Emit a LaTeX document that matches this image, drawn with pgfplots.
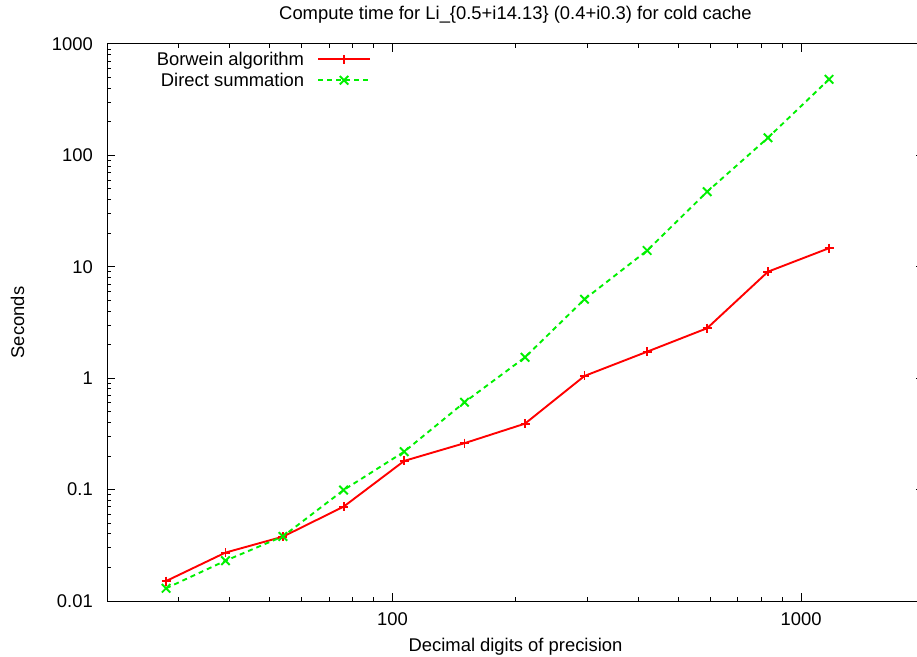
\documentclass[border=0pt]{standalone}
\usepackage{pgfplots}
\pgfplotsset{compat=1.18}
\usepackage{fontspec}
\setmainfont{Liberation Sans}
\definecolor{gpred}{RGB}{255,0,0}
\definecolor{gpgreen}{RGB}{0,240,0}
\begin{document}
\begin{tikzpicture}[font=\fontsize{18.4bp}{22bp}\selectfont]
\begin{axis}[
  name=ax,
  scale only axis,
  width=817bp, height=557bp,
  xmode=log, ymode=log,
  xmin=20, xmax=2000, ymin=0.01, ymax=1000,
  /pgf/number format/assume math mode=true,
  xtick={100,1000}, xticklabels={100,1000},
  ytick={0.01,0.1,1,10,100,1000}, yticklabels={0.01,0.1,1,10,100,1000},
  minor xtick={20,30,40,50,60,70,80,90,200,300,400,500,600,700,800,900,2000},
  minor ytick={0.02,0.03,0.04,0.05,0.06,0.07,0.08,0.09,0.2,0.3,0.4,0.5,0.6,0.7,0.8,0.9,2,3,4,5,6,7,8,9,20,30,40,50,60,70,80,90,200,300,400,500,600,700,800,900},
  tick align=inside,
  major tick length=8bp, minor tick length=4bp,
  axis line style={line width=1bp, black},
  every tick/.style={black, line width=1bp},
  xticklabel style={inner sep=0pt, yshift=-11.5bp},
  yticklabel style={inner sep=0pt, xshift=-14bp},
  title={Compute time for Li\_\{0.5+i14.13\} (0.4+i0.3) for cold cache},
  title style={at={(axis description cs:0.5,1)}, anchor=base, yshift=19bp, inner sep=0pt},
  xlabel={Decimal digits of precision},
  xlabel style={at={(axis description cs:0.5,0)}, anchor=base, yshift=-50.5bp, inner sep=0pt},
  ylabel={Seconds},
  ylabel style={at={([xshift=-83bp]axis description cs:0,0.5)}, anchor=base, inner sep=0pt},
  legend plot pos=right,
  legend cell align=right,
  legend style={draw=none, fill=none, at={(axis description cs:0.3231,0.9856)}, anchor=north east,
    inner sep=0pt, outer sep=0pt, row sep=6bp, column sep=13bp,
    nodes={inner sep=0pt, outer sep=0pt}},
  legend image code/.code={\draw[mark repeat=2,mark phase=2,#1] plot coordinates {(0bp,0bp) (26bp,0bp) (52bp,0bp)};},
]
\addplot[draw=gpred, color=gpred, line width=1.9bp, mark=+, mark size=4.5bp, mark options={solid, line width=1.9bp}]
 coordinates {(27.9,0.0151) (39.0,0.0272) (53.9,0.0378) (75.9,0.0703) (106.8,0.181) (150,0.261) (211,0.391) (295,1.047) (420,1.73) (589,2.81) (830,9.04) (1171,14.7)};
\addlegendentry{Borwein algorithm}
\addplot[draw=gpgreen, color=gpgreen, line width=1.9bp, dash pattern=on 5bp off 4bp, mark=x, mark size=6bp, mark options={solid, line width=1.9bp}]
 coordinates {(27.9,0.0130) (39.0,0.0230) (53.9,0.0380) (75.9,0.0991) (106.8,0.219) (150,0.608) (211,1.54) (295,5.11) (420,14.0) (589,47.2) (830,144) (1171,482)};
\addlegendentry{Direct summation}
\end{axis}
\pgfresetboundingbox
\path[use as bounding box] ([xshift=-107bp,yshift=-56bp]ax.south west) rectangle ([xshift=810bp,yshift=44bp]ax.north west);
\end{tikzpicture}
\end{document}
